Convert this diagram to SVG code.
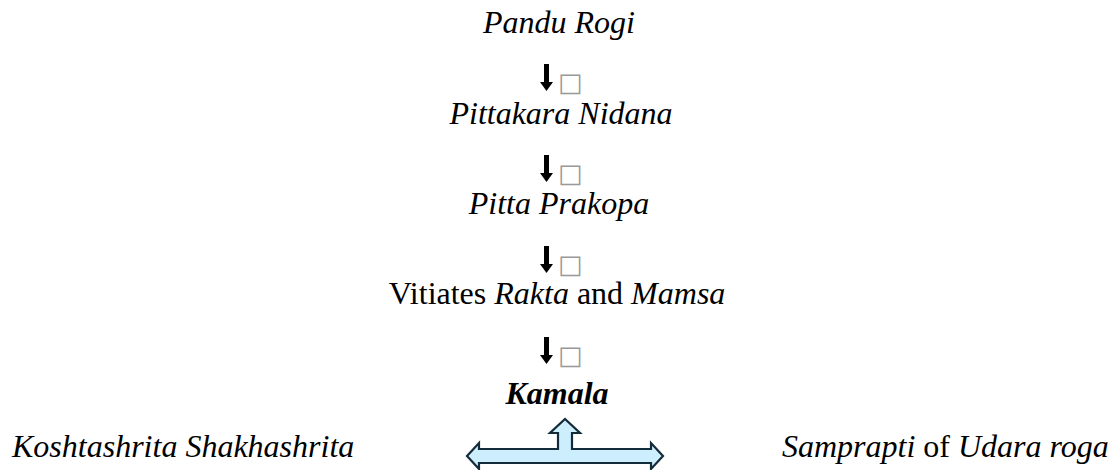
<svg xmlns="http://www.w3.org/2000/svg" width="1112" height="470" viewBox="0 0 1112 470">
<defs>
<style>
.t{font-family:"Liberation Serif","Times New Roman",serif;font-size:32px;fill:#000}
.c{text-anchor:middle}
.i{font-style:italic}
.b{font-weight:bold}
.tofu{font-family:"DejaVu Sans",sans-serif;font-size:26px;fill:#999}
.big{fill:#cdeefc;stroke:#142c3a;stroke-width:2.2;stroke-linejoin:miter}
</style>
<g id="darr"><rect x="-2.5" y="0" width="5" height="19" fill="#000"/><path d="M-6.5,18 L6.5,18 L0,27 Z" fill="#000"/></g>
</defs>
<rect width="1112" height="470" fill="#fff"/>
<g id="n1"><text class="t c i" x="559" y="33">Pandu Rogi</text></g>
<g id="n2"><text class="t c i" x="561" y="124">Pittakara Nidana</text></g>
<g id="n3"><text class="t c i" x="559" y="214">Pitta Prakopa</text></g>
<g id="n4"><text class="t c" x="557" y="304">Vitiates <tspan class="i">Rakta</tspan> and <tspan class="i">Mamsa</tspan></text></g>
<g id="n5"><text class="t c i b" x="557" y="404">Kamala</text></g>
<g id="n6"><text class="t i" x="12" y="457">Koshtashrita Shakhashrita</text></g>
<g id="n7"><text class="t" x="782" y="457"><tspan class="i">Samprapti</tspan> of <tspan class="i">Udara roga</tspan></text></g>
<g id="connectors">
<use href="#darr" x="546.5" y="64"/><text class="tofu" x="558" y="91">□</text>
<use href="#darr" x="546.5" y="155"/><text class="tofu" x="558" y="182">□</text>
<use href="#darr" x="546.5" y="246"/><text class="tofu" x="558" y="273">□</text>
<use href="#darr" x="546.5" y="337"/><text class="tofu" x="558" y="364">□</text>
<path class="big" d="M467,456 L479,443 L479,449 L558,449 L558,433 L550,433 L565,419 L580,433 L572,433 L572,449 L651,449 L651,443 L663,456 L651,469 L651,463 L479,463 L479,469 Z"/>
</g>
</svg>
